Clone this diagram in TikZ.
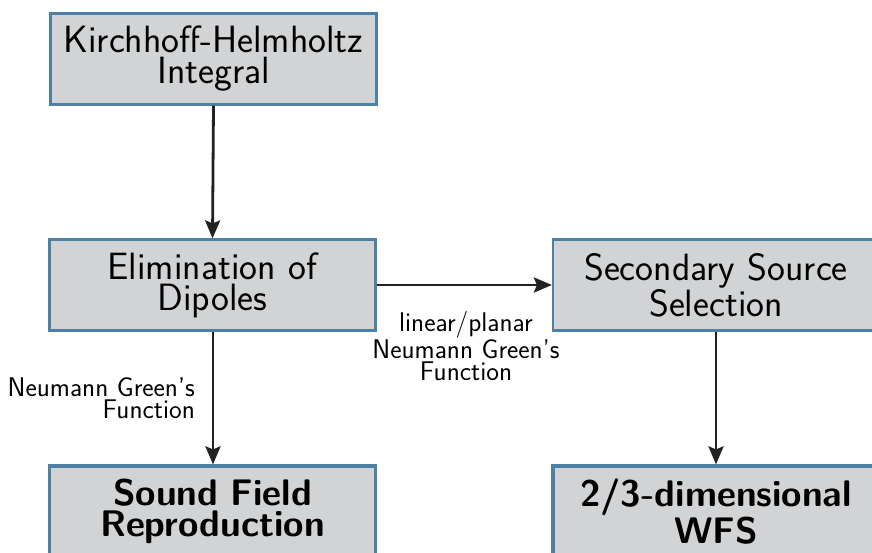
\documentclass[tikz,border=0pt]{standalone}
\usetikzlibrary{arrows.meta}
\definecolor{boxfill}{RGB}{209,211,213}
\definecolor{boxborder}{RGB}{78,128,166}
\definecolor{arrowcol}{RGB}{35,33,35}
\begin{document}
\begin{tikzpicture}[x=1pt,y=-1pt,
  box/.style={draw=boxborder,fill=boxfill,line width=2.2pt,minimum width=326pt,minimum height=91pt,inner sep=0pt,text width=322pt,align=center,font=\sffamily\fontsize{38}{31}\selectfont},
  endbox/.style={box,line width=3.2pt,font=\sffamily\bfseries\fontsize{37}{31}\selectfont},
  conn/.style={draw=arrowcol,line width=2.8pt,-{Stealth[length=18pt,width=15pt,inset=3pt]}},
  lbl/.style={font=\sffamily\fontsize{27}{22}\selectfont,inner sep=0pt}
]
\useasboundingbox (0,0) rectangle (872,553);
\clip (0,0) rectangle (872,553);
\node[box] (kh) at (213.5,59) {Kirchhoff-Helmholtz\\Integral};
\node[box] (el) at (212.5,285) {Elimination of\\Dipoles};
\node[box] (ss) at (716,285) {Secondary Source\\Selection};
\node[endbox] (sf) at (212.5,511.5) {Sound Field\\Reproduction};
\node[endbox] (wfs) at (716,511.5) {2/3-dimensional\\WFS};
\draw[conn] (kh.south) -- (el.north);
\draw[conn] (el.east) -- (ss.west);
\draw[conn] ([xshift=0.5pt]el.south) -- ([xshift=0.5pt]sf.north);
\draw[conn] (ss.south) -- (wfs.north);
\node[lbl,align=center] (l1) at (466,346) {linear/planar\\Neumann Green's\\Function};
\node[lbl,align=right,anchor=east] (l2) at (195,398) {Neumann Green's\\Function};
\end{tikzpicture}
\end{document}
